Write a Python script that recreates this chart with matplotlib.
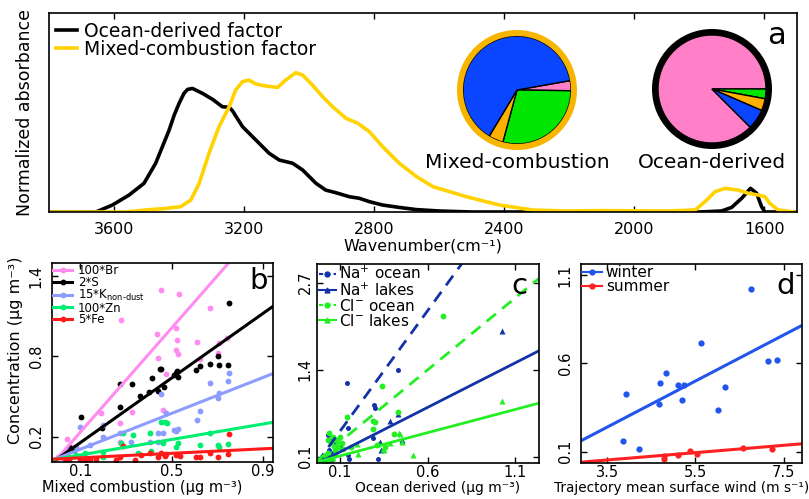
import matplotlib
matplotlib.use('Agg')
import matplotlib.pyplot as plt
from matplotlib.lines import Line2D
from matplotlib.patches import Wedge
import numpy as np

plt.rcParams['font.family'] = ['DejaVu Sans']
plt.rcParams['mathtext.fontset'] = 'dejavusans'

# ---------------- data: panel a (spectra) ----------------
ocean_wn = [3800, 3700, 3656, 3605, 3554, 3508, 3472, 3431, 3415, 3400, 3385, 3374, 3359,
            3328, 3297, 3267, 3246, 3236, 3205, 3164, 3123, 3092, 3051, 3020, 2979, 2949,
            2918, 2877, 2846, 2815, 2774, 2723, 2670, 2600, 2500, 2400, 2200, 2000, 1800,
            1732, 1701, 1670, 1643, 1624, 1609, 1599, 1550, 1500]
ocean_abs = [0, 0, 0, 0.035, 0.085, 0.144, 0.245, 0.41, 0.487, 0.546, 0.596, 0.616, 0.621,
             0.596, 0.566, 0.529, 0.526, 0.509, 0.429, 0.362, 0.295, 0.261, 0.245, 0.211,
             0.144, 0.11, 0.097, 0.077, 0.069, 0.052, 0.035, 0.023, 0.012, 0.005, 0, 0, 0,
             0, 0, 0.005, 0.023, 0.069, 0.119, 0.094, 0.027, 0, 0, 0]

mixed_wn = [3800, 3600, 3564, 3503, 3441, 3395, 3364, 3338, 3308, 3277, 3246, 3226, 3205,
            3185, 3164, 3133, 3097, 3072, 3041, 3020, 2990, 2959, 2928, 2887, 2851, 2815,
            2774, 2723, 2670, 2619, 2517, 2415, 2313, 2211, 2109, 1905, 1813, 1783, 1752,
            1721, 1681, 1650, 1619, 1599, 1584, 1558, 1507]
mixed_abs = [0, 0, 0, 0.01, 0.018, 0.027, 0.06, 0.144, 0.295, 0.429, 0.529, 0.613, 0.655,
             0.663, 0.643, 0.633, 0.626, 0.663, 0.70, 0.688, 0.638, 0.58, 0.529, 0.471,
             0.446, 0.404, 0.328, 0.245, 0.178, 0.127, 0.077, 0.035, 0.01, 0.005, 0.007,
             0.005, 0.01, 0.052, 0.102, 0.119, 0.11, 0.094, 0.085, 0.077, 0.044, 0.01, 0]

wn_ticks = [3600, 3200, 2800, 2400, 2000, 1600]

# pie fractions (order: pink, green, orange, blue)
pie_colors = ['#FF80C8', '#00E600', '#FFB000', '#0A46FF']
mixed_pie = [3.0, 29.0, 4.4, 63.6]
ocean_pie = [87.5, 2.9, 3.6, 6.0]

# ---------------- data: panel b ----------------
b_labels = ['100*Br', '2*S', r'15*K$_{\mathregular{non\text{-}dust}}$', '100*Zn', '5*Fe']
b_colors = ['#FF8CF0', '#000000', '#8C9CFF', '#00EE70', '#FF1A1A']
br_x = [0.04, 0.28, 0.436, 0.44, 0.275, 0.19, 0.326, 0.462, 0.275, 0.455, 0.533, 0.67, 0.52,
        0.524, 0.52, 0.528, 0.61, 0.708, 0.743, 0.704, 0.626, 0.477, 0.0, 0.06]
br_y = [0.18, 1.07, 0.967, 0.79, 0.30, 0.375, 0.387, 0.40, 0.16, 1.30, 1.27, 1.16, 1.01,
        0.92, 0.85, 0.82, 0.91, 0.90, 0.935, 0.827, 0.778, 0.67, 0.05, 0.12]
s_x = [0.103, 0.272, 0.327, 0.363, 0.40, 0.44, 0.415, 0.45, 0.275, 0.195, 0.752, 0.455, 0.51,
       0.52, 0.53, 0.525, 0.606, 0.626, 0.67, 0.708, 0.748, 0.704, 0.468, 0.03, 0.05, 0.07]
s_y = [0.35, 0.594, 0.594, 0.506, 0.536, 0.543, 0.636, 0.703, 0.424, 0.263, 1.20, 0.705, 0.66,
       0.68, 0.65, 0.69, 0.70, 0.728, 0.743, 0.735, 0.735, 0.80, 0.573, 0.07, 0.12, 0.10]
k_x = [0.096, 0.198, 0.198, 0.143, 0.081, 0.044, 0.275, 0.323, 0.44, 0.403, 0.44, 0.477, 0.455,
       0.462, 0.51, 0.52, 0.53, 0.61, 0.626, 0.67, 0.708, 0.704, 0.748, 0.752, 0.02]
k_y = [0.275, 0.287, 0.20, 0.138, 0.125, 0.09, 0.225, 0.163, 0.225, 0.163, 0.163, 0.375, 0.517,
       0.23, 0.25, 0.24, 0.255, 0.325, 0.394, 0.603, 0.524, 0.49, 0.618, 0.678, 0.05]
zn_x = [0.118, 0.198, 0.198, 0.279, 0.286, 0.33, 0.403, 0.41, 0.352, 0.47, 0.455, 0.48, 0.462,
        0.52, 0.528, 0.626, 0.67, 0.704, 0.708, 0.748, 0.05, 0.08]
zn_y = [0.076, 0.088, 0.05, 0.15, 0.225, 0.213, 0.23, 0.095, 0.076, 0.31, 0.31, 0.30, 0.155,
        0.123, 0.155, 0.138, 0.225, 0.138, 0.12, 0.143, 0.04, 0.06]
fe_x = [0.286, 0.367, 0.403, 0.44, 0.47, 0.272, 0.257, 0.169, 0.10, 0.12, 0.14, 0.03, 0.05,
        0.338, 0.455, 0.477, 0.52, 0.535, 0.606, 0.623, 0.67, 0.704, 0.748, 0.752]
fe_y = [0.13, 0.063, 0.076, 0.05, 0.055, 0.05, 0.026, 0.031, 0.03, 0.025, 0.035, 0.03, 0.035,
        0.026, 0.076, 0.068, 0.063, 0.055, 0.05, 0.05, 0.076, 0.046, 0.07, 0.22]
b_slope = [1.946, 1.207, 0.67, 0.289, 0.084]
b_icpt = [0.04, 0.035, 0.039, 0.034, 0.033]

# ---------------- data: panel c ----------------
c_labels = [r'Na$^{+}$ ocean', r'Na$^{+}$ lakes', r'Cl$^{-}$ ocean', r'Cl$^{-}$ lakes']
na_ocean_x = [0.138, 0.43, 0.296, 0.30, 0.147, 0.033, 0.29, 0.319, 0.147, 0.153, 0.02, 0.04,
              0.06, 0.08, 0.05, 0.10, 0.03, 0.01]
na_ocean_y = [1.20, 1.39, 0.877, 0.828, 0.53, 0.42, 0.38, 0.06, 0.13, 0.066, 0.10, 0.2, 0.15,
              0.3, 0.35, 0.25, 0.05, 0.08]
na_lakes_x = [1.027, 0.386, 0.433, 0.329, 0.335, 0.452, 0.02, 0.05]
na_lakes_y = [1.98, 0.64, 0.74, 0.32, 0.2, 0.35, 0.03, 0.06]
cl_ocean_x = [0.69, 0.338, 0.433, 0.138, 0.30, 0.29, 0.29, 0.41, 0.163, 0.31, 0.357, 0.02,
              0.03, 0.04, 0.05, 0.06, 0.07, 0.08, 0.09, 0.1, 0.03, 0.05, 0.07, 0.11, 0.12]
cl_ocean_y = [2.20, 1.157, 0.77, 0.70, 0.62, 0.64, 0.51, 0.44, 0.245, 0.27, 0.245, 0.1, 0.35,
              0.45, 0.3, 0.4, 0.2, 0.35, 0.25, 0.4, 0.15, 0.08, 0.12, 0.3, 0.22]
cl_lakes_x = [1.027, 0.515, 0.443, 0.452, 0.347, 0.319, 0.205, 0.386, 0.439, 0.199, 0.351,
              0.01, 0.03, 0.06]
cl_lakes_y = [0.937, 0.125, 0.44, 0.32, 0.21, 0.294, 0.145, 0.30, 0.45, 0.29, 0.2, 0.03,
              0.05, 0.08]
c_slope = [3.6, 1.33, 2.15, 0.694]
c_icpt = [0.12, 0.038, 0.106, 0.042]

# ---------------- data: panel d ----------------
winter_x = [6.77, 5.63, 7.14, 7.36, 4.82, 4.70, 5.10, 5.25, 6.16, 3.93, 5.20, 4.67, 6.01, 3.85, 4.21]
winter_y = [1.022, 0.715, 0.611, 0.617, 0.547, 0.49, 0.475, 0.475, 0.466, 0.426, 0.39, 0.371,
            0.337, 0.162, 0.117]
summer_x = [4.78, 4.78, 5.11, 5.37, 5.54, 6.57, 7.24]
summer_y = [0.075, 0.057, 0.081, 0.105, 0.085, 0.122, 0.115]
d_slope = [0.130, 0.0207]
d_icpt = [-0.215, -0.019]

# ---------------- figure ----------------
W, H = 809, 499
fig = plt.figure(figsize=(W / 100, H / 100), dpi=100)


def px_axes(x0, y0, x1, y1):
    return fig.add_axes([x0 / W, 1 - y1 / H, (x1 - x0) / W, (y1 - y0) / H])


def style(ax, lw=1.2):
    for s in ax.spines.values():
        s.set_linewidth(lw)
    ax.tick_params(direction='in', length=4, width=1, top=True, right=True)


GOLD = '#FFD200'
RING = '#F7B500'

# ---- panel a ----
axA = px_axes(49, 13, 797, 212)
style(axA)
axA.plot(ocean_wn, ocean_abs, color='black', lw=2.6, label='Ocean-derived factor',
         solid_joinstyle='round')
axA.plot(mixed_wn, mixed_abs, color=GOLD, lw=2.6, label='Mixed-combustion factor',
         solid_joinstyle='round')
axA.set_xlim(3800, 1500)
axA.set_ylim(0, 1)
axA.set_xticks(wn_ticks)
axA.set_yticks([])
axA.tick_params(axis='x', labelsize=11.5, pad=7)
axA.set_xlabel('Wavenumber(cm⁻¹)', fontsize=11.5, labelpad=1)
axA.set_ylabel('Normalized absorbance', fontsize=12.5)
axA.yaxis.set_label_coords(-0.02, 0.5)
axA.legend(loc='upper left', bbox_to_anchor=(0.01, 0.955), frameon=False, fontsize=13.5,
           handlelength=1.1, handletextpad=0.35, labelspacing=-0.05, borderpad=0,
           borderaxespad=0)
axA.text(0.985, 0.96, 'a', transform=axA.transAxes, ha='right', va='top', fontsize=22)

# pies
for (cx, cy, vals, start, ringcol, ringw, lab) in [
        (517, 90, mixed_pie, 10, RING, 6, 'Mixed-combustion'),
        (712, 89, ocean_pie, -45, 'black', 6, 'Ocean-derived')]:
    axp = px_axes(cx - 65, cy - 65, cx + 65, cy + 65)
    axp.pie(vals, colors=pie_colors, startangle=start, counterclock=False, radius=54,
            wedgeprops=dict(edgecolor='black', linewidth=1.0))
    axp.add_patch(Wedge((0, 0), 54 + ringw, 0, 360, width=ringw, facecolor=ringcol,
                        edgecolor='none'))
    axp.set_xlim(-65, 65)
    axp.set_ylim(-65, 65)
    axp.set_aspect('equal')
    axp.set_axis_off()
    fig.text(cx / W, 1 - 163 / H, lab, ha='center', va='center', fontsize=14.5)

# ---- panel b ----
axB = px_axes(52, 263, 273, 462)
style(axB)
b_x = [br_x, s_x, k_x, zn_x, fe_x]
b_y = [br_y, s_y, k_y, zn_y, fe_y]
axB.set_xlim(-0.025, 0.945)
axB.set_ylim(0.01, 1.5)
xl = np.array(axB.get_xlim())
for xs, ys, c in zip(b_x, b_y, b_colors):
    axB.plot(xs, ys, 'o', color=c, ms=4.2, mec='none')
for m, q, c in zip(b_slope, b_icpt, b_colors):
    axB.plot(xl, m * xl + q, color=c, lw=2.2)
axB.set_xticks([0.1, 0.5, 0.9])
axB.set_yticks([0.2, 0.8, 1.4])
axB.set_xlabel('Mixed combustion (μg m⁻³)', fontsize=10.5, labelpad=1)
axB.xaxis.set_label_coords(0.41, -0.092)
axB.set_ylabel('Concentration (μg m⁻³)', fontsize=11.5)
axB.yaxis.set_label_coords(-0.13, 0.563)
hb = [Line2D([], [], color=c, lw=2.2, marker='o', ms=4.2, mec='none') for c in b_colors]
axB.legend(hb, b_labels, loc='upper left', bbox_to_anchor=(0.005, 0.995), frameon=False,
           fontsize=8.5, handlelength=1.6, handletextpad=0.5, labelspacing=-0.1,
           borderpad=0, borderaxespad=0)
axB.text(0.977, 0.98, 'b', transform=axB.transAxes, ha='right', va='top', fontsize=21)

# ---- panel c ----
axC = px_axes(316.7, 264, 538.7, 462.7)
style(axC)
NAB = '#1232A8'
GRN = '#22EE22'
axC.set_xlim(-0.033, 1.235)
axC.set_ylim(0.01, 2.98)
xl = np.array(axC.get_xlim())
axC.plot(na_ocean_x, na_ocean_y, 'o', color=NAB, ms=3.6, mec='none')
axC.plot(na_lakes_x, na_lakes_y, '^', color=NAB, ms=4.5, mec='none')
axC.plot(cl_ocean_x, cl_ocean_y, 'o', color=GRN, ms=4.2, mec='none')
axC.plot(cl_lakes_x, cl_lakes_y, '^', color=GRN, ms=5, mec='none')
c_cols = [NAB, NAB, GRN, GRN]
c_ls = [(0, (4.3, 2.9)), '-', (0, (4.3, 2.9)), '-']
for m, q, c, ls in zip(c_slope, c_icpt, c_cols, c_ls):
    axC.plot(xl, m * xl + q, color=c, lw=2.0, linestyle=ls)
axC.set_xticks([0.1, 0.6, 1.1])
axC.set_yticks([0.1, 1.4, 2.7])
axC.set_xlabel('Ocean derived (μg m⁻³)', fontsize=10, labelpad=1)
axC.xaxis.set_label_coords(0.545, -0.09)
hc = [Line2D([], [], color=c, lw=1.5, linestyle=ls, marker=mk, ms=3.5)
      for c, ls, mk in zip(c_cols, [(0, (2, 1.5)), '-', (0, (2, 1.5)), '-'], ['o', '^', 'o', '^'])]
axC.legend(hc, c_labels, loc='upper left', bbox_to_anchor=(0.01, 0.995), frameon=False,
           fontsize=11, handlelength=1.1, handletextpad=0.2, labelspacing=-0.06,
           borderpad=0, borderaxespad=0)
axC.text(0.947, 0.96, 'c', transform=axC.transAxes, ha='right', va='top', fontsize=21)

# ---- panel d ----
axD = px_axes(581, 264, 802, 462.7)
style(axD)
WB = '#2255EE'
RD = '#FF2020'
axD.set_xlim(2.9, 7.92)
axD.set_ylim(0.038, 1.162)
xl = np.array(axD.get_xlim())
axD.plot(winter_x, winter_y, 'o', color=WB, ms=4.5, mec='none')
axD.plot(summer_x, summer_y, 'o', color=RD, ms=4.5, mec='none')
for m, q, c in zip(d_slope, d_icpt, [WB, RD]):
    axD.plot(xl, m * xl + q, color=c, lw=2.2)
axD.set_xticks([3.5, 5.5, 7.5])
axD.set_yticks([0.1, 0.6, 1.1])
axD.set_xlabel('Trajectory mean surface wind (m s⁻¹)', fontsize=9.8, labelpad=1)
axD.xaxis.set_label_coords(0.455, -0.09)
hd = [Line2D([], [], color=c, lw=1.5, marker='o', ms=3.5) for c in [WB, RD]]
axD.legend(hd, ['winter', 'summer'], loc='upper left', bbox_to_anchor=(0.005, 0.995),
           frameon=False, fontsize=11, handlelength=1.3, handletextpad=0.25,
           labelspacing=-0.06, borderpad=0, borderaxespad=0)
axD.text(0.968, 0.96, 'd', transform=axD.transAxes, ha='right', va='top', fontsize=21)

for ax in (axB, axC, axD):
    ax.tick_params(axis='both', labelsize=10.5)
    ax.tick_params(axis='x', pad=1.5)
    ax.tick_params(axis='y', pad=6, labelrotation=90)
    for t in ax.get_yticklabels():
        t.set_verticalalignment('center')
axC.tick_params(axis='y', pad=3)

fig.savefig('out.png', dpi=100)
